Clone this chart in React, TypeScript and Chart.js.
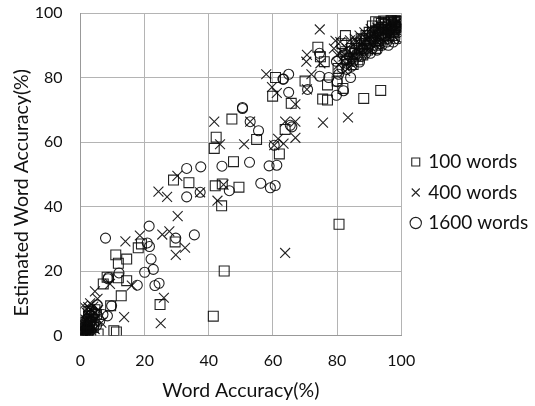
import React, { useEffect, useRef } from "react";
import { Chart, registerables } from "chart.js";

Chart.register(...registerables);

type P = [number, number];

const series100: P[] = [
  [29,48.2],[33.8,47.4],[42,46.4],[44.2,47],[49.4,46],[44,40.2],[29.5,29],[18,27.2],[19,28.4],[11,25],[11.8,22.4],[14.4,23.7],[8.3,18.1],[7.1,16],[11.8,17.9],[14.4,17],[12.7,12.3],[9.4,9.2],[10.4,1.5],[11.2,1.1],[5.5,0.5],[24.8,9.6],[44.8,20],[41.4,6],[80.6,34.5],
  [47.2,67.1],[54.9,60.8],[47.7,53.9],[62,56.3],[59.9,74.2],[60.8,80],[65.7,72],[63.8,63.9],[70,78.9],[77,77.7],[75.5,73.3],[77,73],[88.3,73.5],[93.6,76],[74,89.4],[74.8,86.4],[76,84.9],[82.6,93],[80.3,82.8],[80,78.9],[81.8,76.6],[92,97.3],[42.3,61.5],[41.7,58],
  [81.5,90.5],[82.5,88],[83,85.5],[84,86],[84.5,89],[85.5,87.5],[86,90.5],[87,89],[87.5,92],[88,87],[88.5,90.5],[89,93],[89.5,88.5],[90,94],[90.5,91],[91,96],[91.5,92.5],[92,94.5],[92.5,90],[93,97],[93.5,93.5],[94,95.5],[94.5,97.5],[95,92],[95.5,94],[96,97],[96.5,95],[97,96.5],[97.5,93],[98,97.5],[98.5,95.5],[99,97],[99.5,96],[99.8,97.3],[97,97.5],[95,96.5],
  [85,84],[86.5,85.5],[87.5,88.5],[89,90.5],[90,92],[91,93.5],[92,89],[93,91.5],[94,93],[95,95],[96,93],[97,95],[98,96],[99,95],[99.6,97.5],[98.7,97.5],[97.8,97],[96.8,97.6],[95.8,96],[94.8,97],[93.8,96.8],[92.8,95],
  [0.2,0.2],[0.5,1],[0.8,0.5],[1,2],[1.2,1.2],[1.5,3],[1.8,1.8],[2,4.5],[2.2,2.5],[2.5,6],[2.8,3.5],[3,5],[3.2,0.8],[3.5,7],[4,2.5],[4.2,4.8],[4.5,8],[5,6.5],[0.4,0.6],[1.4,0.6],[2.4,1.4],[3.4,2.8],[1.6,4],[2.6,7.5],
];

const series400: P[] = [
  [30.2,49.5],[24.3,44.6],[27,43],[37.3,44.4],[42.7,41.8],[30.3,37],[44.6,46.8],[18.5,31],[14,29.2],[25.5,31.3],[27.7,32.3],[32.6,27.2],[29.7,25],[4.5,13.7],[9.2,16],[5.3,11.4],[26,11.7],[13.6,5.7],[25,3.8],[0.8,9.3],[16,15.5],
  [74.6,94.9],[79.5,91.4],[70.6,87],[70.4,84.9],[57.9,81],[59.7,77],[61.2,75.2],[70.6,76.3],[72,81],[67,71.7],[52.9,66.3],[51,59.3],[63.8,66.3],[67,66.3],[75.6,66],[83.4,67.6],[61.6,61],[67,61.3],[63.3,59.5],[60.4,59],[74.8,84.4],[80,87],[84.7,84],[63.8,25.6],[41.7,66.3],[43.5,59.3],
  [79,89],[80.5,84],[81,91],[82,86.5],[82.5,82],[83,89],[83.5,85],[84,91.5],[85,87],[85.5,92],[86,89],[87,93],[87.5,87.5],[88,91],[88.5,94],[89,89.5],[90,92.5],[90.5,95],[91,90],[91.5,93.5],[92,91.5],[92.5,95.5],[93,92.5],[93.5,96],[94,94],[94.5,91.5],[95,96],[95.5,93],[96,95],[96.5,97],[97,93.5],[97.5,96],[98,94.5],[98.5,97],[99,95.5],[99.5,97],
  [81.5,88],[83,84],[84.5,87],[86,91],[87.5,90],[89,92],[90.5,88.5],[92,94],[93.5,90],[95,94.5],[96.5,92.5],[98,96],[99,97.3],
  [0.2,0.5],[0.5,2],[0.8,1],[1,3.5],[1.3,1.8],[1.5,5],[1.8,2.8],[2,7],[2.3,4],[2.6,1],[2.8,5.8],[3,8.2],[3.3,3.2],[3.6,6.5],[4,9],[4.4,2],[4.8,5],[3,10],[5.5,8],[6.5,4],[0.6,0.3],[1.1,1],[2.1,2],[3.1,1.8],[2.4,8.8],
];

const series1600: P[] = [
  [21.4,33.9],[7.8,30.2],[20.8,28.7],[21.5,27.6],[29.7,30.2],[35.5,31.2],[22,23.7],[22.7,20.5],[20,19.6],[12,19.4],[8.6,17.6],[8.7,18],[17.7,15.6],[23.2,15.5],[24.5,16.2],[9.7,9.2],[8.4,6.1],[33.1,43],[37.3,44.4],[46.4,44.9],[5,3.1],
  [50.5,70.7],[50.5,70.4],[52.9,66.3],[55.5,63.5],[60.4,59],[52.7,53.7],[58.8,52.6],[61.2,52.8],[56.2,47.2],[59.2,45.8],[60.7,46.5],[33.1,51.8],[37.5,52.3],[44.1,52.5],
  [64.9,81],[63.3,79.5],[63.1,79.5],[64.9,75.4],[70.8,76.3],[65.9,64.7],[65.4,65.2],[74.6,80.4],[77.4,80],[84.2,80],[80,78.7],[82,75.9],[79.8,74.5],[74.5,87.5],[79.8,85],[99.8,92.6],[90.4,87.5],[86.2,86.4],[83,84.4],
  [80.5,81],[81.5,83],[82,87],[83,82.5],[84,88],[85,85],[85.5,88.5],[86.5,90],[87.5,86.5],[88,89],[88.5,91.5],[89,87.5],[90,90],[90.5,92.5],[91,89],[91.5,94],[92,91],[92.5,93],[93,95],[93.5,90.5],[94,92.5],[94.5,95],[95,93],[95.5,91],[96,94.5],[96.5,92.5],[97,96],[97.5,94],[98,92],[98.5,95.5],[99,94],[99.5,96.5],
  [82.8,85.5],[84.5,83.5],[86,87.2],[87,84.8],[89.5,89],[91,91.5],[92.5,88.5],[94,90],[96,90],[97.5,91],[99,92],[98,94],
  [0.1,0.3],[0.4,1.2],[0.7,0.2],[0.9,2.5],[1.1,1],[1.4,3.8],[1.6,0.6],[1.9,2],[2.1,5.2],[2.4,3],[2.7,6.8],[3,1.5],[3.2,4.3],[3.5,8],[3.8,5.8],[4.2,3],[4.5,7],[5.2,9.5],[6,4.5],[7,6.5],[0.3,0.8],[1.3,1.6],[2.2,0.4],[3.3,6.2],
];

const xTicks = [0, 20, 40, 60, 80, 100];
const seriesNames = ["100 words", "400 words", "1600 words"];
const fontFamily = "Lato, 'Open Sans', sans-serif";

const placement = {
  id: "placement",
  beforeLayout(chart: any) {
    if (chart.legend) chart.legend.afterFit = function (this: any) { this.width = 134.5; };
  },
  afterLayout(chart: any) {
    if (chart.legend) chart.legend.bottom -= 34;
    const y = chart.scales.y;
    const drawTitle = y.drawTitle;
    y.drawTitle = function (this: any, ...args: any[]) {
      const ctx = this.ctx;
      ctx.save();
      ctx.translate(0, 18.5);
      drawTitle.apply(this, args);
      ctx.restore();
    };
  },
};

export default function App() {
  const ref = useRef<HTMLCanvasElement>(null);
  useEffect(() => {
    const toPts = (s: P[]) => s.map(([x, y]) => ({ x, y }));
    const common = {
      showLine: false,
      borderColor: "rgba(10,10,10,0.9)",
      backgroundColor: "rgba(0,0,0,0)",
      pointBorderWidth: 1.1,
      pointBackgroundColor: "rgba(0,0,0,0)",
      pointBorderColor: "rgba(10,10,10,0.9)",
    };
    const chart = new Chart(ref.current!, {
      type: "scatter",
      plugins: [placement],
      data: {
        datasets: [
          { ...common, label: seriesNames[0], data: toPts(series100), pointStyle: "rect", pointRadius: 7 },
          { ...common, label: seriesNames[1], data: toPts(series400), pointStyle: "crossRot", pointRadius: 7 },
          { ...common, label: seriesNames[2], data: toPts(series1600), pointStyle: "circle", pointRadius: 5 },
        ],
      },
      options: {
        animation: false,
        responsive: false,
        layout: { padding: { top: 13, right: 0, bottom: 0, left: 0 } },
        plugins: {
          tooltip: { enabled: false },
          legend: {
            position: "right",
            labels: {
              usePointStyle: true,
              boxWidth: 6,
              boxHeight: 8,
              padding: 11.5,
              color: "#111",
              font: { family: fontFamily, size: 19 },
            },
          },
        },
        scales: {
          x: {
            type: "linear",
            min: 0,
            max: 100,
            afterBuildTicks: (s: any) => { s.ticks = xTicks.map((value) => ({ value })); },
            afterFit: (s: any) => { s.height = 70.5; s.paddingLeft = 0; s.paddingRight = 0; },
            grid: { color: "#b4b4b4", lineWidth: 1, drawTicks: false },
            border: { color: "#999" },
            ticks: { color: "#111", padding: 16, maxRotation: 0, font: { family: fontFamily, size: 16 } },
            title: { display: true, text: "Word Accuracy(%)", color: "#111", padding: { top: 4, bottom: 4 }, font: { family: fontFamily, size: 19.5 } },
          },
          y: {
            type: "linear",
            min: 0,
            max: 100,
            afterBuildTicks: (s: any) => { s.ticks = xTicks.map((value) => ({ value })); },
            afterFit: (s: any) => { s.width = 80.5; s.paddingTop = 0; s.paddingBottom = 0; },
            grid: { color: "#b4b4b4", lineWidth: 1, drawTicks: false },
            border: { color: "#999" },
            ticks: { color: "#111", padding: 18, font: { family: fontFamily, size: 16 } },
            title: { display: true, text: "Estimated Word Accuracy(%)", color: "#111", padding: { top: 10, bottom: 4 }, font: { family: fontFamily, size: 19.5 } },
          },
        },
      },
    } as any);
    return () => chart.destroy();
  }, []);
  return (
    <div style={{ position: "absolute", left: 0, top: 0, width: 535, height: 406 }}>
      <canvas ref={ref} width={535} height={406} style={{ display: "block" }} />
    </div>
  );
}
